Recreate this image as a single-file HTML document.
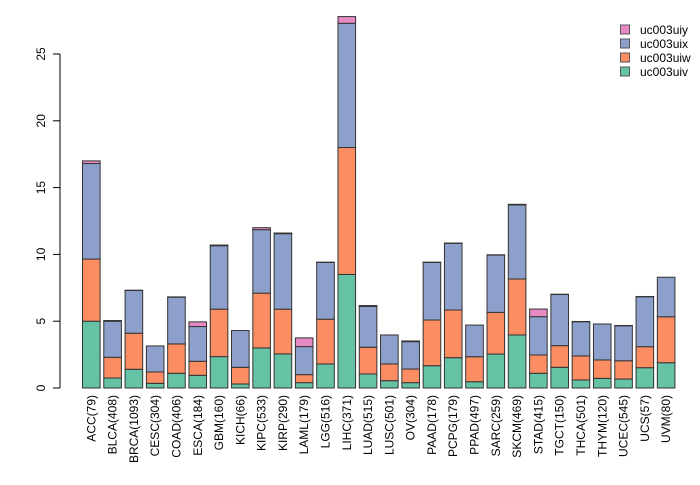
<!DOCTYPE html>
<html><head><meta charset="utf-8"><style>body{margin:0;background:#fff}svg{font-family:"Liberation Sans",sans-serif}</style></head>
<body>
<svg id="c" width="700" height="480"></svg>
<script>
const categories=["ACC(79)","BLCA(408)","BRCA(1093)","CESC(304)","COAD(406)","ESCA(184)","GBM(160)","KICH(66)","KIPC(533)","KIRP(290)","LAML(179)","LGG(516)","LIHC(371)","LUAD(515)","LUSC(501)","OV(304)","PAAD(178)","PCPG(179)","PPAD(497)","SARC(259)","SKCM(469)","STAD(415)","TGCT(150)","THCA(501)","THYM(120)","UCEC(545)","UCS(57)","UVM(80)"];
const uiv=[5.0,0.75,1.4,0.35,1.1,0.95,2.35,0.3,3.0,2.55,0.4,1.8,8.5,1.05,0.55,0.4,1.67,2.27,0.47,2.54,3.97,1.1,1.55,0.6,0.72,0.67,1.52,1.89];
const uiw=[4.65,1.55,2.7,0.85,2.2,1.05,3.55,1.25,4.1,3.35,0.6,3.35,9.5,2.0,1.25,1.02,3.42,3.57,1.87,3.12,4.19,1.37,1.62,1.8,1.38,1.37,1.57,3.44];
const uix=[7.15,2.7,3.2,1.95,3.5,2.6,4.75,2.75,4.75,5.65,2.1,4.25,9.3,3.05,2.17,2.05,4.31,4.99,2.37,4.29,5.54,2.87,3.83,2.56,2.69,2.62,3.74,2.96];
const uiy=[0.2,0.05,0.02,0,0.02,0.35,0.05,0,0.15,0.05,0.65,0.02,0.5,0.07,0,0.05,0.02,0.02,0,0.02,0.05,0.57,0.02,0.02,0,0.02,0.02,0];
const series=[uiv,uiw,uix,uiy];
const names=["uc003uiv","uc003uiw","uc003uix","uc003uiy"];
const colors=["#66c2a5","#fc8d62","#8da0cb","#e78ac3"];
const yTicks=[0,5,10,15,20,25];
const NS="http://www.w3.org/2000/svg",svg=document.getElementById('c');
const y0=388,ppu=13.36,x0=91.3,step=21.29,bw=17.6;
const Y=v=>y0-v*ppu, X=i=>x0+i*step;
function mk(t,a,p){const e=document.createElementNS(NS,t);for(const k in a)e.setAttribute(k,a[k]);(p||svg).appendChild(e);return e;}
const ax=mk('g',{});


mk('line',{x1:60,x2:60,y1:Y(0),y2:Y(25),stroke:'#000'},ax);
yTicks.forEach(v=>{mk('line',{x1:53,x2:60,y1:Y(v),y2:Y(v),stroke:'#000'},ax);
const t=mk('text',{x:0,y:0,'font-size':12,'text-anchor':'middle',transform:`translate(45,${Y(v)}) rotate(-90)`},ax);t.textContent=v;

});
categories.forEach((c,i)=>{let base=0;
series.forEach((s,k)=>{const v=s[i];if(v<=0)return;
const r=mk('rect',{x:X(i)-bw/2,y:Y(base+v),width:bw,height:v*ppu,fill:colors[k],stroke:'#333','stroke-width':1});


base+=v;});
const t=mk('text',{x:0,y:0,'font-size':12,'text-anchor':'end',transform:`translate(${X(i)+4},395) rotate(-90)`});t.textContent=c;

});
const lg=mk('g',{});


[3,2,1,0].forEach((k,j)=>{const yy=30+j*14;
const r=mk('rect',{x:620.5,y:yy-5,width:9,height:9,fill:colors[k],stroke:'#555'},lg);


const t=mk('text',{x:640,y:yy+4,'font-size':12},lg);t.textContent=names[k];

});
</script>
</body></html>
